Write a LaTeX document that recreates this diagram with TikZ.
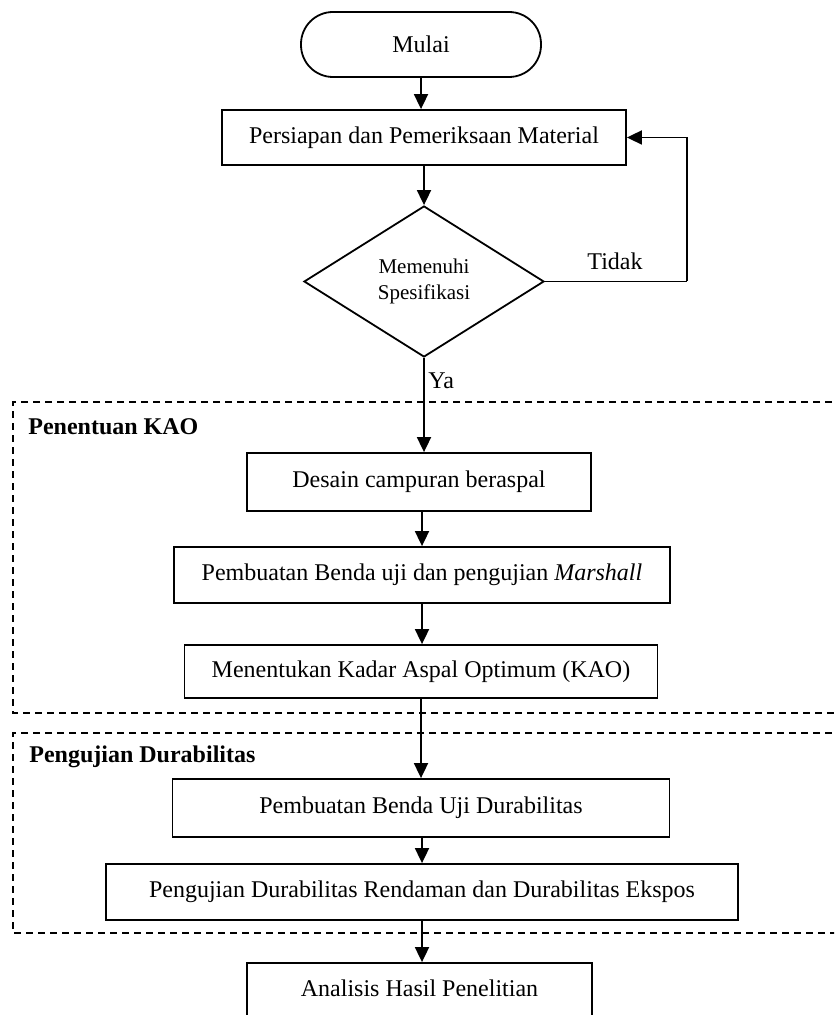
\documentclass[tikz,border=0pt]{standalone}
\usepackage{fontspec}
\setmainfont{Liberation Serif}
\usetikzlibrary{shapes.geometric,arrows.meta}
\tikzset{
  box/.style={draw, line width=0.9pt, rectangle, inner sep=0pt, align=center, font=\fontsize{12}{14}\selectfont},
  term/.style={box, rounded corners=16pt},
  decision/.style={draw, line width=0.9pt, diamond, inner sep=0pt, align=center, font=\fontsize{10.5}{13}\selectfont},
  flow/.style={line width=0.9pt, -{Triangle[length=7.5pt,width=7pt]}},
  plain/.style={line width=0.9pt},
  group/.style={line width=0.7pt, dash pattern=on 3.5pt off 2.5pt},
  lbl/.style={font=\fontsize{12}{14}\selectfont, inner sep=0pt},
  grouplbl/.style={font=\fontsize{12}{14}\selectfont\bfseries, inner sep=0pt, anchor=west}
}
\begin{document}
\begin{tikzpicture}[x=0.5pt,y=-0.5pt]
\useasboundingbox (0,0) rectangle (834,1015);
\clip (0,0) rectangle (834,1015);
% group frames
\draw[group] (880,402) -- (13,402) -- (13,713) -- (880,713);
\draw[group] (880,733) -- (13,733) -- (13,933) -- (880,933);
\node[grouplbl] (g1) at (28,427) {Penentuan KAO};
\node[grouplbl] (g2) at (29,757) {Pengujian Durabilitas};
% nodes
\node[term, minimum width=120pt, minimum height=32.5pt] (mulai) at (421,44.5) {Mulai};
\node[box, minimum width=202pt, minimum height=27.5pt] (b1) at (424,137.5) {Persiapan dan Pemeriksaan Material};
\node[decision, minimum width=120pt, minimum height=75.5pt] (dia) at (424,281.5) {Memenuhi\\Spesifikasi};
\node[box, minimum width=172pt, minimum height=29pt] (desain) at (419,482) {Desain campuran beraspal};
\node[box, minimum width=248pt, minimum height=28pt] (marshall) at (422,575) {Pembuatan Benda uji dan pengujian \textit{Marshall}};
\node[box, minimum width=236.5pt, minimum height=26.5pt] (kao) at (421,671.5) {Menentukan Kadar Aspal Optimum (KAO)};
\node[box, minimum width=248.5pt, minimum height=29pt] (bud) at (421,808) {Pembuatan Benda Uji Durabilitas};
\node[box, minimum width=316pt, minimum height=28pt] (uji) at (422,892) {Pengujian Durabilitas Rendaman dan Durabilitas Ekspos};
\node[box, minimum width=172.5pt, minimum height=40pt] (anal) at (419.5,1003) {};
\node[lbl] (analt) at (419.5,988) {Analisis Hasil Penelitian};
% labels
\node[lbl, anchor=west] (ya) at (428,381) {Ya};
\node[lbl] (tidak) at (615,261) {Tidak};
\coordinate (loop) at (687,281.5);
% connectors
\draw[flow] (mulai.south) -- (mulai.south |- b1.north);
\draw[flow] (b1.south) -- (b1.south |- dia.north);
\draw[flow] (dia.south) -- (dia.south |- desain.north);
\draw[plain] (dia.east) -- (loop);
\draw[flow] (loop) |- (b1.east);
\draw[flow] (desain.south -| marshall.north) -- (marshall.north);
\draw[flow] (marshall.south) -- (marshall.south |- kao.north);
\draw[flow] (kao.south -| bud.north) -- (bud.north);
\draw[flow] (bud.south -| uji.north) -- (uji.north);
\draw[flow] (uji.south) -- (uji.south |- anal.north);
\end{tikzpicture}
\end{document}
